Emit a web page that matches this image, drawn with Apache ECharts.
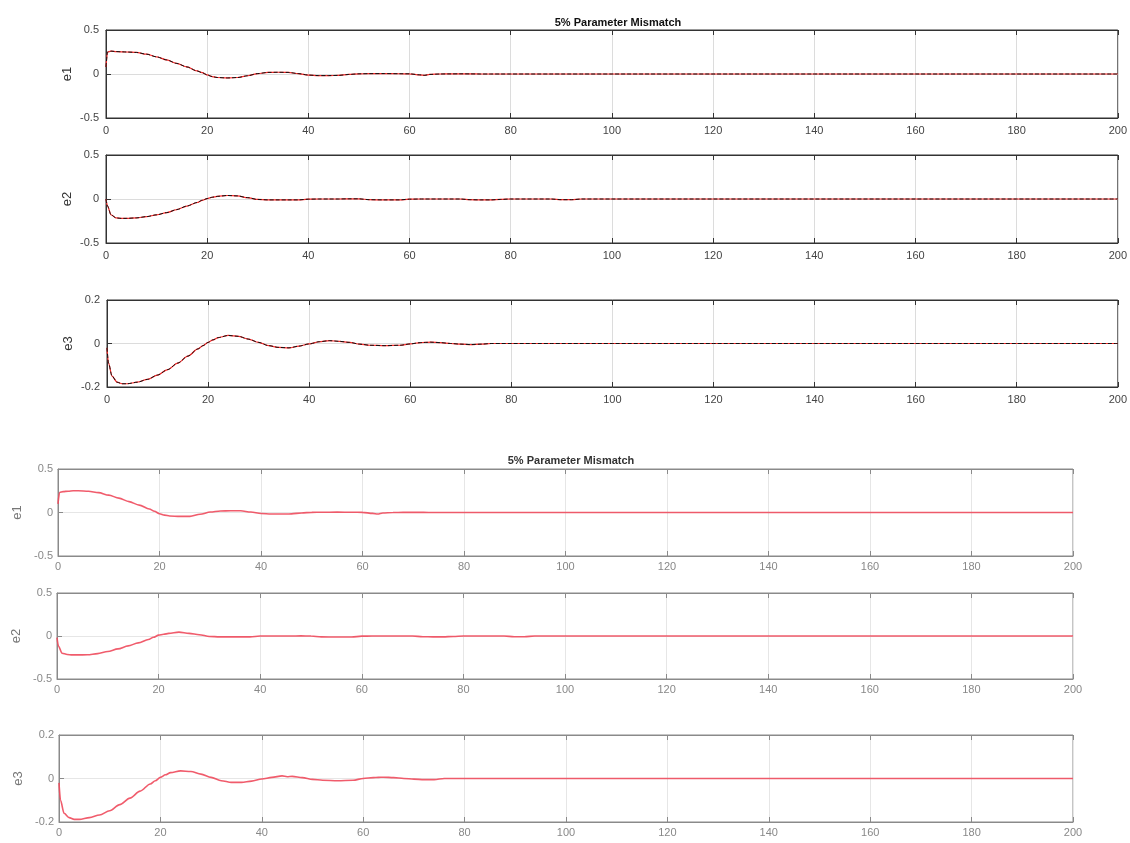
<!DOCTYPE html>
<html>
<head>
<meta charset="utf-8">
<script src="https://cdn.jsdelivr.net/npm/echarts@6/dist/echarts.min.js"></script>
<style>
html,body{margin:0;padding:0;background:#fff;}
#chart{width:1130px;height:843px;}
</style>
</head>
<body>
<div id="chart"></div>
<script>
// ---------- data ----------
const titleText = "5% Parameter Mismatch";
const xTicks = [0, 20, 40, 60, 80, 100, 120, 140, 160, 180, 200];
const yNames = ["e1", "e2", "e3"];

// top figure
const tTop = [0, 0.3, 1, 2, 3, 4, 6, 8, 10, 12, 14, 16, 18, 19, 20, 21, 22, 24, 26, 28, 30, 32, 34, 36, 38, 40, 42, 44, 46, 48, 50, 52, 55, 58, 60, 62, 63, 64, 66, 68, 70, 72, 74, 76, 78, 80, 88, 90, 92, 94, 100, 120, 140, 160, 180, 200];
const e1Top = [0.08, 0.25, 0.26, 0.255, 0.252, 0.25, 0.245, 0.225, 0.195, 0.16, 0.12, 0.08, 0.035, 0.015, -0.01, -0.03, -0.04, -0.045, -0.04, -0.02, 0.005, 0.018, 0.02, 0.018, 0.005, -0.012, -0.018, -0.018, -0.016, -0.005, 0.002, 0.004, 0.005, 0.003, 0.002, -0.01, -0.015, -0.005, 0, 0.001, 0.002, 0.001, 0, 0, 0, 0, 0, 0, 0, 0, 0, 0, 0, 0, 0, 0];
const e2Top = [0, -0.08, -0.18, -0.215, -0.22, -0.22, -0.215, -0.2, -0.18, -0.155, -0.12, -0.08, -0.04, -0.015, 0.005, 0.02, 0.03, 0.04, 0.035, 0.015, -0.005, -0.01, -0.01, -0.01, -0.01, -0.002, 0, 0, 0, 0.002, 0.002, -0.008, -0.01, -0.01, -0.002, 0, 0, 0, 0, 0, 0, -0.008, -0.01, -0.01, -0.005, 0, 0, -0.008, -0.008, 0, 0, 0, 0, 0, 0, 0];
const e3Top = [-0.02, -0.09, -0.15, -0.178, -0.185, -0.185, -0.178, -0.165, -0.145, -0.12, -0.09, -0.058, -0.025, -0.01, 0.005, 0.017, 0.027, 0.037, 0.033, 0.02, 0.005, -0.01, -0.018, -0.02, -0.012, -0.002, 0.008, 0.013, 0.01, 0.005, -0.003, -0.008, -0.01, -0.008, -0.002, 0.004, 0.005, 0.006, 0.004, 0, -0.003, -0.005, -0.003, 0, 0, 0, 0, 0, 0, 0, 0, 0, 0, 0, 0, 0];

// bottom figure
const tBot = [0, 0.3, 1, 2, 3, 4, 6, 8, 10, 12, 14, 16, 18, 19, 20, 21, 22, 24, 26, 28, 30, 32, 34, 36, 38, 40, 42, 44, 45, 46, 48, 50, 52, 55, 58, 60, 62, 63, 64, 66, 68, 70, 72, 74, 76, 78, 80, 88, 90, 92, 94, 100, 120, 140, 160, 180, 200];
const e1Bot = [0.1, 0.23, 0.24, 0.245, 0.25, 0.25, 0.245, 0.228, 0.2, 0.165, 0.125, 0.085, 0.04, 0.015, -0.015, -0.03, -0.04, -0.045, -0.045, -0.02, 0.005, 0.018, 0.02, 0.02, 0.005, -0.012, -0.018, -0.018, -0.017, -0.016, -0.005, 0.002, 0.003, 0.004, 0.003, 0.002, -0.01, -0.018, -0.005, 0, 0.001, 0.002, 0.001, 0, 0, 0, 0, 0, 0, 0, 0, 0, 0, 0, 0, 0, 0];
const e2Bot = [-0.02, -0.12, -0.2, -0.215, -0.22, -0.22, -0.218, -0.205, -0.18, -0.15, -0.115, -0.08, -0.04, -0.015, 0.01, 0.02, 0.03, 0.045, 0.03, 0.015, -0.005, -0.01, -0.01, -0.01, -0.01, 0, 0, 0, 0, 0, 0.001, 0, -0.01, -0.012, -0.012, -0.002, 0, 0, 0, 0, 0, 0, -0.008, -0.01, -0.01, -0.005, 0, 0, -0.008, -0.008, 0, 0, 0, 0, 0, 0, 0];
const e3Bot = [-0.02, -0.1, -0.16, -0.18, -0.188, -0.188, -0.18, -0.168, -0.148, -0.12, -0.09, -0.058, -0.025, -0.01, 0.005, 0.017, 0.027, 0.035, 0.032, 0.02, 0.005, -0.01, -0.018, -0.018, -0.012, -0.002, 0.005, 0.012, 0.008, 0.01, 0.004, -0.004, -0.008, -0.01, -0.008, 0, 0.004, 0.005, 0.006, 0.004, 0, -0.003, -0.005, -0.005, 0, 0, 0, 0, 0, 0, 0, 0, 0, 0, 0, 0, 0];

const yRanges = [[-0.5, 0.5, 0.5], [-0.5, 0.5, 0.5], [-0.2, 0.2, 0.2]];

// ---------- layout / style ----------
const grids = [
  {left: 106, top: 30, width: 1014, height: 88},
  {left: 106, top: 155, width: 1015, height: 88},
  {left: 107, top: 300, width: 1013, height: 87},
  {left: 58, top: 469, width: 1015, height: 87},
  {left: 57, top: 593, width: 1016, height: 86},
  {left: 59, top: 735, width: 1014, height: 87}
];

const topStyle = {axis: '#333', label: '#444', grid: '#dcdcdc', nameGap: 32, labelMargin: 7, xLabelMargin: 7};
const botStyle = {axis: '#8a8a8a', label: '#888', grid: '#e6e6e6', nameGap: 34, labelMargin: 5, xLabelMargin: 5};

const xAxes = [], yAxes = [], series = [];
const topSets = [e1Top, e2Top, e3Top];
const botSets = [e1Bot, e2Bot, e3Bot];

for (let g = 0; g < 6; g++) {
  const isTop = g < 3;
  const k = g % 3;
  const st = isTop ? topStyle : botStyle;
  const [ymin, ymax, yint] = yRanges[k];
  xAxes.push({
    type: 'value', gridIndex: g, min: 0, max: 200, interval: 20, position: 'bottom',
    axisLine: {show: true, onZero: false, lineStyle: {color: st.axis, width: 1}},
    axisTick: {show: true, inside: true, length: 5, lineStyle: {color: st.axis}},
    axisLabel: {color: st.label, fontSize: 11, fontFamily: 'Liberation Sans, Arial, sans-serif', margin: st.xLabelMargin,
      formatter: v => (xTicks.indexOf(v) >= 0 ? String(v) : '')},
    splitLine: {show: true, lineStyle: {color: st.grid, width: 1}}
  });
  xAxes.push({
    type: 'value', gridIndex: g, min: 0, max: 200, interval: 20, position: 'top',
    axisLine: {show: true, onZero: false, lineStyle: {color: st.axis, width: 1}},
    axisTick: {show: true, inside: true, length: 5, lineStyle: {color: st.axis}},
    axisLabel: {show: false}, splitLine: {show: false}
  });
  yAxes.push({
    type: 'value', gridIndex: g, min: ymin, max: ymax, interval: yint,
    name: yNames[k], nameLocation: 'middle', nameGap: st.nameGap, nameRotate: 90, nameMoveOverlap: false,
    nameTextStyle: {color: isTop ? '#333' : '#777', fontSize: 13, fontFamily: 'Liberation Sans, Arial, sans-serif'},
    axisLine: {show: true, onZero: false, lineStyle: {color: st.axis, width: 1}},
    axisTick: {show: true, inside: true, length: 5, lineStyle: {color: st.axis}},
    axisLabel: {color: st.label, fontSize: 11, fontFamily: 'Liberation Sans, Arial, sans-serif', margin: st.labelMargin,
      formatter: v => String(Math.round(v * 10) / 10)},
    splitLine: {show: true, lineStyle: {color: st.grid, width: 1}}
  });
  const tArr = isTop ? tTop : tBot;
  const vArr = isTop ? topSets[k] : botSets[k];
  const pts = tArr.map((t, i) => [t, vArr[i]]);
  if (isTop) {
    series.push({type: 'line', xAxisIndex: 2 * g, yAxisIndex: g, data: pts, showSymbol: false, smooth: 0.3, smoothMonotone: 'x',
      lineStyle: {color: '#ff2a2a', width: 1.2}, silent: true, z: 3});
    series.push({type: 'line', xAxisIndex: 2 * g, yAxisIndex: g, data: pts, showSymbol: false, smooth: 0.3, smoothMonotone: 'x',
      lineStyle: {color: '#111', width: 1, type: [4, 2]}, silent: true, z: 4});
  } else {
    series.push({type: 'line', xAxisIndex: 2 * g, yAxisIndex: g, data: pts, showSymbol: false, smooth: 0.3, smoothMonotone: 'x',
      lineStyle: {color: '#ee4a5c', width: 1.6, opacity: 0.9}, silent: true, z: 3});
  }
}

const option = {
  backgroundColor: '#fff',
  animation: false,
  title: [
    {text: titleText, left: 613, top: 12, textAlign: 'center',
      textStyle: {fontSize: 11, fontWeight: 'bold', color: '#111', fontFamily: 'Liberation Sans, Arial, sans-serif'}},
    {text: titleText, left: 566, top: 450, textAlign: 'center',
      textStyle: {fontSize: 11, fontWeight: 'bold', color: '#333', fontFamily: 'Liberation Sans, Arial, sans-serif'}}
  ],
  grid: grids.map((g, i) => Object.assign({show: true, borderColor: i < 3 ? '#333' : '#8a8a8a', borderWidth: 1, backgroundColor: 'transparent'}, g)),
  xAxis: xAxes,
  yAxis: yAxes,
  series: series
};

const chart = echarts.init(document.getElementById('chart'), null, {renderer: 'canvas'});
chart.setOption(option);
</script>
</body>
</html>
